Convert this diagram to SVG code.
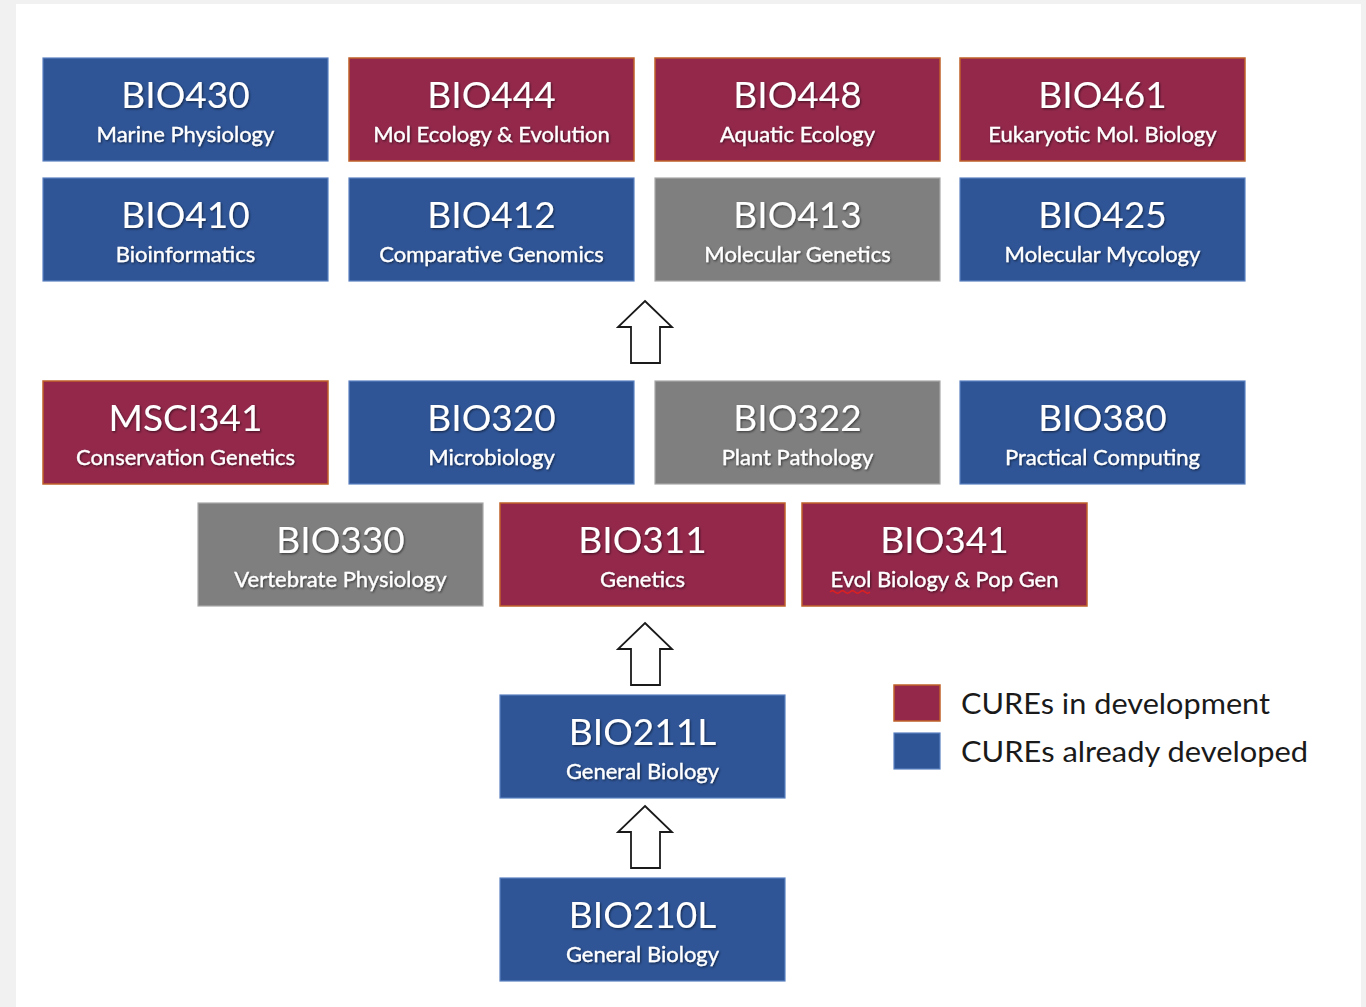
<svg xmlns="http://www.w3.org/2000/svg" width="1366" height="1007" viewBox="0 0 1366 1007">
<defs>
<style>
.blue{fill:#2f5597;stroke:#5b80c0;stroke-width:1.2}
.red{fill:#93284b;stroke:#c0602a;stroke-width:1.5}
.gray{fill:#7f7f7f;stroke:#a8a8a8;stroke-width:1.2}
.t{font-family:Lato,"Liberation Sans",sans-serif;font-size:37px;fill:#ffffff;text-anchor:middle;filter:url(#sh)}
.s{font-family:Lato,"Liberation Sans",sans-serif;font-size:22px;fill:#ffffff;stroke:#ffffff;stroke-width:0.3;text-anchor:middle;filter:url(#sh)}
.lg{font-family:Lato,"Liberation Sans",sans-serif;font-size:29px;fill:#1a1a1a}
.arrow{fill:#ffffff;stroke:#1a1a1a;stroke-width:1.8;stroke-linejoin:miter}
</style>
<filter id="sh" x="-10%" y="-20%" width="120%" height="150%">
<feDropShadow dx="1" dy="1.2" stdDeviation="0.8" flood-color="#000000" flood-opacity="0.55"/>
</filter>
<path id="up" d="M0,0 L27,26 L15,26 L15,62 L-14,62 L-14,26 L-27,26 Z"/>
</defs>
<rect x="0" y="0" width="1366" height="1007" fill="#f1f1f1"/>
<rect x="16" y="4" width="1345" height="1003" fill="#ffffff"/>

<g id="BIO430"><rect class="blue" x="43" y="58" width="285" height="103"/><text class="t" x="185.5" y="108">BIO430</text><text class="s" x="185.5" y="142">Marine Physiology</text></g>
<g id="BIO444"><rect class="red" x="349" y="58" width="285" height="103"/><text class="t" x="491.5" y="108">BIO444</text><text class="s" x="491.5" y="142">Mol Ecology &amp; Evolution</text></g>
<g id="BIO448"><rect class="red" x="655" y="58" width="285" height="103"/><text class="t" x="797.5" y="108">BIO448</text><text class="s" x="797.5" y="142">Aquatic Ecology</text></g>
<g id="BIO461"><rect class="red" x="960" y="58" width="285" height="103"/><text class="t" x="1102.5" y="108">BIO461</text><text class="s" x="1102.5" y="142">Eukaryotic Mol. Biology</text></g>

<g id="BIO410"><rect class="blue" x="43" y="178" width="285" height="103"/><text class="t" x="185.5" y="228">BIO410</text><text class="s" x="185.5" y="262">Bioinformatics</text></g>
<g id="BIO412"><rect class="blue" x="349" y="178" width="285" height="103"/><text class="t" x="491.5" y="228">BIO412</text><text class="s" x="491.5" y="262">Comparative Genomics</text></g>
<g id="BIO413"><rect class="gray" x="655" y="178" width="285" height="103"/><text class="t" x="797.5" y="228">BIO413</text><text class="s" x="797.5" y="262">Molecular Genetics</text></g>
<g id="BIO425"><rect class="blue" x="960" y="178" width="285" height="103"/><text class="t" x="1102.5" y="228">BIO425</text><text class="s" x="1102.5" y="262">Molecular Mycology</text></g>

<g id="MSCI341"><rect class="red" x="43" y="381" width="285" height="103"/><text class="t" x="185.5" y="431">MSCI341</text><text class="s" x="185.5" y="465">Conservation Genetics</text></g>
<g id="BIO320"><rect class="blue" x="349" y="381" width="285" height="103"/><text class="t" x="491.5" y="431">BIO320</text><text class="s" x="491.5" y="465">Microbiology</text></g>
<g id="BIO322"><rect class="gray" x="655" y="381" width="285" height="103"/><text class="t" x="797.5" y="431">BIO322</text><text class="s" x="797.5" y="465">Plant Pathology</text></g>
<g id="BIO380"><rect class="blue" x="960" y="381" width="285" height="103"/><text class="t" x="1102.5" y="431">BIO380</text><text class="s" x="1102.5" y="465">Practical Computing</text></g>

<g id="BIO330"><rect class="gray" x="198" y="503" width="285" height="103"/><text class="t" x="340.5" y="553">BIO330</text><text class="s" x="340.5" y="587">Vertebrate Physiology</text></g>
<g id="BIO311"><rect class="red" x="500" y="503" width="285" height="103"/><text class="t" x="642.5" y="553">BIO311</text><text class="s" x="642.5" y="587">Genetics</text></g>
<g id="BIO341"><rect class="red" x="802" y="503" width="285" height="103"/><text class="t" x="944.5" y="553">BIO341</text><text class="s" x="944.5" y="587">Evol Biology &amp; Pop Gen</text>
<path d="M830,592 q2.5,-2.5 5,0 t5,0 t5,0 t5,0 t5,0 t5,0 t5,0 t5,0" fill="none" stroke="#e02020" stroke-width="1.2"/></g>

<g id="BIO211L"><rect class="blue" x="500" y="695" width="285" height="103"/><text class="t" x="642.5" y="745">BIO211L</text><text class="s" x="642.5" y="779">General Biology</text></g>
<g id="BIO210L"><rect class="blue" x="500" y="878" width="285" height="103"/><text class="t" x="642.5" y="928">BIO210L</text><text class="s" x="642.5" y="962">General Biology</text></g>

<g id="connectors">
<use href="#up" class="arrow" transform="translate(645,301)"/>
<use href="#up" class="arrow" transform="translate(645,623)"/>
<use href="#up" class="arrow" transform="translate(645,806)"/>
</g>

<g id="legend">
<rect class="red" x="894" y="685" width="46" height="36"/>
<rect class="blue" x="894" y="733" width="46" height="36"/>
<text class="lg" x="961" y="714" textLength="309" lengthAdjust="spacingAndGlyphs">CUREs in development</text>
<text class="lg" x="961" y="762" textLength="347" lengthAdjust="spacingAndGlyphs">CUREs already developed</text>
</g>
</svg>
